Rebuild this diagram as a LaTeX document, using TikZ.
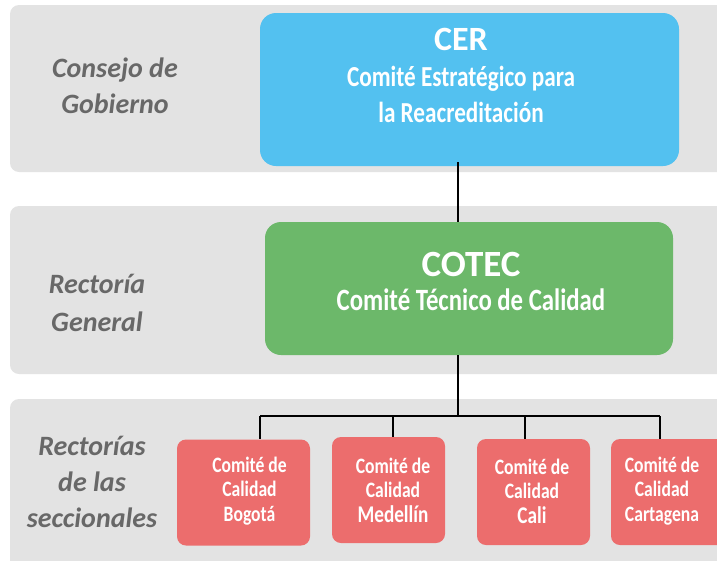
\documentclass[tikz,border=0pt]{standalone}
\usepackage{fontspec}
\setmainfont{Carlito}
\newfontfamily\boxfont[FakeStretch=0.8]{Carlito}
\definecolor{bandgray}{HTML}{E3E3E3}
\definecolor{labgray}{HTML}{686868}
\definecolor{cerblue}{HTML}{53C1F0}
\definecolor{cotecgreen}{HTML}{6CB86A}
\definecolor{secred}{HTML}{EC6D6D}
\begin{document}
\begin{tikzpicture}[x=1pt,y=-1pt,
  band/.style={fill=bandgray, rounded corners=9pt},
  lab/.style={text=labgray, font=\fontsize{28}{36}\selectfont\bfseries\itshape, align=center},
  secbox/.style={fill=secred, rounded corners=9pt, minimum height=106pt},
  sectext/.style={text=white, align=center,
    font=\boxfont\fontsize{22}{24.5}\selectfont\bfseries},
  conn/.style={line width=2.8pt, black}]
\useasboundingbox (0,0) rectangle (717,560);
% bands
\fill[band] (10,5) rectangle (740,172);
\fill[band] (10,206) rectangle (740,374);
\fill[band] (10,399) rectangle (740,580);
% labels
\node[lab] (l1) at (115,86) {Consejo de\\Gobierno};
\node[lab, font=\fontsize{28}{38}\selectfont\bfseries\itshape] (l2) at (97,303) {Rectoría\\General};
\node[lab] (l3) at (92,482) {Rectorías\\de las\\seccionales};
% main boxes
\fill[cerblue, rounded corners=16pt] (260,13) rectangle (679,166);
\node[inner sep=0, minimum width=419pt, minimum height=153pt] (cer) at (469.5,89.5) {};
\node[text=white, align=center, font=\boxfont\fontsize{29}{36}\selectfont\bfseries] (certxt) at (461,75)
  {{\rmfamily\fontsize{34}{36}\selectfont CER}\\Comité Estratégico para\\la Reacreditación};
\fill[cotecgreen, rounded corners=16pt] (265,222) rectangle (673,355);
\node[inner sep=0, minimum width=408pt, minimum height=133pt] (cotec) at (469,288.5) {};
\node[text=white, align=center, font=\boxfont\fontsize{31}{34}\selectfont\bfseries] (cotectxt) at (471,281)
  {{\rmfamily\fontsize{37}{34}\selectfont COTEC}\\Comité Técnico de Calidad};
% section boxes
\node[secbox, minimum width=133pt] (bog) at (243.5,492.5) {};
\node[sectext] (bogtxt) at (249.5,491) {Comité de\\Calidad\\Bogotá};
\node[secbox, minimum width=113pt] (med) at (388.5,490) {};
\node[sectext] (medtxt) at (393,490) {Comité de\\Calidad\\{\fontsize{24}{24.5}\selectfont Medellín}};
\node[secbox, minimum width=113pt] (cali) at (533.5,492) {};
\node[sectext] (calitxt) at (532,491) {Comité de\\Calidad\\{\fontsize{24}{24.5}\selectfont Cali}};
\node[secbox, minimum width=115pt] (cart) at (668.5,492) {};
\node[sectext] (carttxt) at (662,491) {Comité de\\Calidad\\Cartagena};
% connectors
\coordinate (bus) at (458,416);
\coordinate (d1) at (260,416);
\coordinate (d2) at (393,416);
\coordinate (d3) at (525,416);
\coordinate (d4) at (660,416);
\draw[conn] (458,162) -- (458,222);
\draw[conn] (cotec.south -| bus) -- (bus);
\draw[conn] (d1) -- (d4);
\draw[conn] (d1) -- (d1 |- bog.north);
\draw[conn] (d2) -- (d2 |- med.north);
\draw[conn] (d3) -- (d3 |- cali.north);
\draw[conn] (d4) -- (d4 |- cart.north);
\end{tikzpicture}
\end{document}
